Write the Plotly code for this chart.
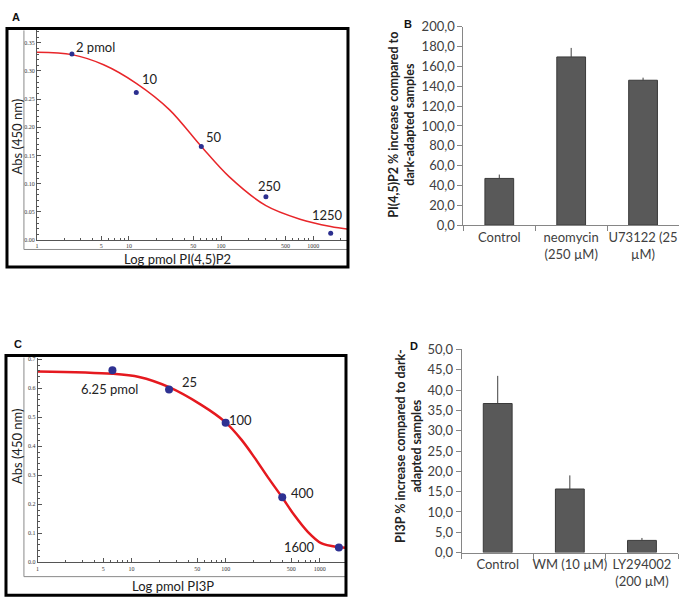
import math
import plotly.graph_objects as go

W, H = 683, 608

# ---------------- Panel A : PI(4,5)P2 standard curve ----------------
A_X = [2.4, 12, 61, 307, 1550]
A_Y = [0.330, 0.262, 0.166, 0.077, 0.012]
A_LABELS = ["2 pmol", "10", "50", "250", "1250"]
A_CURVE_X = [1, 2.4, 5.3, 12, 27.6, 61, 123, 307, 720, 1550, 2450]
A_CURVE_Y = [0.333, 0.329, 0.311, 0.278, 0.231, 0.166, 0.112, 0.061, 0.037, 0.024, 0.019]
A_XTICKS = [1, 5, 10, 50, 100, 500, 1000]
A_XTICK_LABELS = ["1", "5", "10", "50", "100", "500", "1000"]
A_YTICKS = [0.00, 0.05, 0.10, 0.15, 0.20, 0.25, 0.30, 0.35]
A_YTICK_LABELS = ["0.00", "0.05", "0.10", "0.15", "0.20", "0.25", "0.30", "0.35"]

# ---------------- Panel C : PI3P standard curve ----------------
C_X = [6.25, 25, 100, 400, 1600]
C_Y = [0.662, 0.596, 0.481, 0.224, 0.051]
C_LABELS = ["6.25 pmol", "25", "100", "400", "1600"]
C_CURVE_X = [1, 6.25, 12, 25, 55, 98, 147, 203, 282, 400, 539, 748, 1035, 1600, 1905]
C_CURVE_Y = [0.658, 0.650, 0.639, 0.604, 0.543, 0.485, 0.423, 0.361, 0.293, 0.2235,
             0.162, 0.105, 0.066, 0.052, 0.050]
C_XTICKS = [1, 5, 10, 50, 100, 500, 1000]
C_XTICK_LABELS = ["1", "5", "10", "50", "100", "500", "1000"]
C_YTICKS = [0.0, 0.1, 0.2, 0.3, 0.4, 0.5, 0.6, 0.7]
C_YTICK_LABELS = ["0.0", "0.1", "0.2", "0.3", "0.4", "0.5", "0.6", "0.7"]

LOG_MINOR = [2, 3, 4, 6, 7, 8, 9, 20, 30, 40, 60, 70, 80, 90,
             200, 300, 400, 600, 700, 800, 900, 2000]

# ---------------- Panel B : PI(4,5)P2 bars ----------------
B_CATS = ["Control", "neomycin<br>(250 µM)", "U73122 (25<br>µM)"]
B_VALS = [47.1, 169.6, 146.1]
B_ERR = [3.9, 9.1, 2.6]
B_YTICKS = [0, 20, 40, 60, 80, 100, 120, 140, 160, 180, 200]
B_YTICK_LABELS = ["0,0", "20,0", "40,0", "60,0", "80,0", "100,0", "120,0",
                  "140,0", "160,0", "180,0", "200,0"]

# ---------------- Panel D : PI3P bars ----------------
D_CATS = ["Control", "WM (10 µM)", "LY294002<br>(200 µM)"]
D_VALS = [36.7, 15.65, 3.0]
D_ERR = [6.8, 3.35, 0.6]
D_YTICKS = [0, 5, 10, 15, 20, 25, 30, 35, 40, 45, 50]
D_YTICK_LABELS = ["0,0", "5,0", "10,0", "15,0", "20,0", "25,0", "30,0",
                  "35,0", "40,0", "45,0", "50,0"]

# label offsets (pixels) for the standard-curve point labels
A_LABEL_OFF = [(24, 7), (14, 13), (13, 9), (4, 11), (-3, 18)]
C_LABEL_OFF = [(-3, -19), (20, 7), (15, 3), (20, 4), (-39, 1)]


def px(x):
    return x / W


def py(y):
    return 1 - y / H


TEXT_FONT = "Lato, 'Open Sans', sans-serif"
TICK_SERIF = "'Liberation Serif', 'DejaVu Serif', serif"

fig = go.Figure()

# curves and points
fig.add_trace(go.Scatter(x=A_CURVE_X, y=A_CURVE_Y, mode="lines", line_shape="spline",
                         line=dict(color="#e8262a", width=1.5, smoothing=0.9),
                         xaxis="x", yaxis="y"))
fig.add_trace(go.Scatter(x=A_X, y=A_Y, mode="markers",
                         marker=dict(color="#2b2f8f", size=5), xaxis="x", yaxis="y"))
fig.add_trace(go.Scatter(x=C_CURVE_X, y=C_CURVE_Y, mode="lines", line_shape="spline",
                         line=dict(color="#e5191f", width=2.5, smoothing=0.9),
                         xaxis="x3", yaxis="y3"))
fig.add_trace(go.Scatter(x=C_X, y=C_Y, mode="markers",
                         marker=dict(color="#2e3192", size=8), xaxis="x3", yaxis="y3"))

# bars
bar_marker = dict(color="#595959", line=dict(color="#3a3a3a", width=1))
fig.add_trace(go.Bar(x=B_CATS, y=B_VALS, width=0.4, marker=bar_marker,
                     error_y=dict(type="data", array=B_ERR, arrayminus=[0, 0, 0], symmetric=False,
                                  color="#404040", thickness=1, width=0),
                     xaxis="x2", yaxis="y2"))
fig.add_trace(go.Bar(x=D_CATS, y=D_VALS, width=0.4, marker=bar_marker,
                     error_y=dict(type="data", array=D_ERR, arrayminus=[0, 0, 0], symmetric=False,
                                  color="#404040", thickness=1, width=0),
                     xaxis="x4", yaxis="y4"))

small_tick_font = dict(family=TICK_SERIF, size=6, color="#333333")
curve_axis_common = dict(showline=True, linecolor="#555555", linewidth=1, ticks="inside",
                         tickcolor="#555555", ticklen=4, tickfont=small_tick_font,
                         showgrid=False, zeroline=False)

bar_axis_common = dict(showline=True, linecolor="#868686", linewidth=1, ticks="outside",
                       tickcolor="#868686", ticklen=5, showgrid=False, zeroline=False,
                       tickangle=0,
                       tickfont=dict(family=TEXT_FONT, size=13, color="#404040"))

fig.update_layout(
    width=W, height=H, autosize=False,
    margin=dict(l=0, r=0, t=0, b=0),
    paper_bgcolor="white", plot_bgcolor="rgba(0,0,0,0)",
    showlegend=False,
    xaxis=dict(domain=[px(35), px(348)], type="log", range=[0, 3.389], anchor="y",
               tickvals=A_XTICKS, ticktext=A_XTICK_LABELS,
               minor=dict(ticks="inside", ticklen=2, tickcolor="#555555", tickvals=LOG_MINOR),
               **curve_axis_common),
    yaxis=dict(domain=[py(238.3), py(23)], range=[0, 0.372], anchor="x",
               tickvals=A_YTICKS, ticktext=A_YTICK_LABELS,
               minor=dict(ticks="inside", ticklen=2, tickcolor="#555555", dtick=0.01, tick0=0),
               **curve_axis_common),
    xaxis3=dict(domain=[px(35.7), px(345)], type="log", range=[0, 3.28], anchor="y3",
                tickvals=C_XTICKS, ticktext=C_XTICK_LABELS,
                minor=dict(ticks="inside", ticklen=2, tickcolor="#555555", tickvals=LOG_MINOR),
                **curve_axis_common),
    yaxis3=dict(domain=[py(569.3), py(359)], range=[0, 0.706], anchor="x3",
                tickvals=C_YTICKS, ticktext=C_YTICK_LABELS,
                minor=dict(ticks="inside", ticklen=2, tickcolor="#555555", dtick=0.02, tick0=0),
                **curve_axis_common),
    xaxis2=dict(domain=[px(462.7), px(679)], type="category", range=[-0.5, 2.5], anchor="y2",
                tickson="boundaries", **bar_axis_common),
    yaxis2=dict(domain=[py(223), py(19.3)], range=[0, 200], anchor="x2",
                tickvals=B_YTICKS, ticktext=B_YTICK_LABELS, **bar_axis_common),
    xaxis4=dict(domain=[px(461), px(678)], type="category", range=[-0.5, 2.5], anchor="y4",
                tickson="boundaries", **bar_axis_common),
    yaxis4=dict(domain=[py(559.3), py(350.7)], range=[0, 50], anchor="x4",
                tickvals=D_YTICKS, ticktext=D_YTICK_LABELS, **bar_axis_common),
)

shapes = []
# gray frames of the curve plots
for (x0, y0, x1, y1) in [(22, 23, 347, 248), (22, 359, 345, 584)]:
    shapes.append(dict(type="line", xref="paper", yref="paper", x0=px(x0), y0=py(y0),
                       x1=px(x0), y1=py(y1), line=dict(color="#8a8a8a", width=1)))
    shapes.append(dict(type="line", xref="paper", yref="paper", x0=px(x0), y0=py(y1),
                       x1=px(x1), y1=py(y1), line=dict(color="#8a8a8a", width=1)))
# black outer boxes
for (x0, y0, x1, y1) in [(5, 21, 347, 266), (4, 357, 345, 603)]:
    shapes.append(dict(type="rect", xref="paper", yref="paper", x0=px(x0), y0=py(y0),
                       x1=px(x1), y1=py(y1), line=dict(color="#000000", width=3),
                       fillcolor="rgba(0,0,0,0)"))
fig.update_layout(shapes=shapes)

ann = []
# panel letters
for letter, (lx, ly) in zip(["A", "B", "C", "D"], [(14, 9), (407, 16), (16, 345), (413, 347)]):
    ann.append(dict(text="<b>" + letter + "</b>", xref="paper", yref="paper", x=px(lx), y=py(ly),
                    xanchor="center", yanchor="middle", showarrow=False,
                    font=dict(family="Liberation Sans, Arial, sans-serif", size=11, color="#111111")))
# point labels
for xs, ys, labels, offs, xa, ya in [(A_X, A_Y, A_LABELS, A_LABEL_OFF, "x", "y"),
                                     (C_X, C_Y, C_LABELS, C_LABEL_OFF, "x3", "y3")]:
    for xv, yv, lab, (dx, dy) in zip(xs, ys, labels, offs):
        ann.append(dict(text=lab, xref=xa, yref=ya, x=math.log10(xv), y=yv,
                        xanchor="center", yanchor="middle", xshift=dx, yshift=dy,
                        showarrow=False,
                        font=dict(family=TEXT_FONT, size=13, color="#222222")))
# curve axis titles
ann.append(dict(text="Log pmol PI(4,5)P2", xref="paper", yref="paper", x=px(176), y=py(258),
                xanchor="center", yanchor="middle", showarrow=False,
                font=dict(family=TEXT_FONT, size=13, color="#222222")))
ann.append(dict(text="Abs (450 nm)", xref="paper", yref="paper", x=px(15), y=py(132),
                xanchor="center", yanchor="middle", showarrow=False, textangle=-90,
                font=dict(family=TEXT_FONT, size=13, color="#222222")))
ann.append(dict(text="Log pmol PI3P", xref="paper", yref="paper", x=px(172), y=py(594),
                xanchor="center", yanchor="middle", showarrow=False,
                font=dict(family=TEXT_FONT, size=13, color="#222222")))
ann.append(dict(text="Abs (450 nm)", xref="paper", yref="paper", x=px(15), y=py(450),
                xanchor="center", yanchor="middle", showarrow=False, textangle=-90,
                font=dict(family=TEXT_FONT, size=13, color="#222222")))
# bar axis titles
ann.append(dict(text="<b>PI(4,5)P2 % increase compared to<br>dark-adapted samples</b>",
                xref="paper", yref="paper", x=px(401), y=py(120),
                xanchor="center", yanchor="middle", showarrow=False, textangle=-90,
                font=dict(family=TEXT_FONT, size=12.5, color="#222222")))
ann.append(dict(text="<b>PI3P % increase compared to dark-<br>adapted samples</b>",
                xref="paper", yref="paper", x=px(407), y=py(450),
                xanchor="center", yanchor="middle", showarrow=False, textangle=-90,
                font=dict(family=TEXT_FONT, size=12.5, color="#222222")))
fig.update_layout(annotations=ann)

fig.write_html("out.html", config={"displayModeBar": False},
               post_script="document.body.style.margin='0';document.body.style.overflow='hidden';")
